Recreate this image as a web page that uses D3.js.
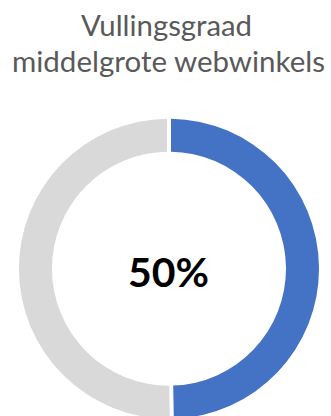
<!DOCTYPE html>
<html>
<head>
<meta charset="utf-8">
<script src="https://cdn.jsdelivr.net/npm/d3@7"></script>
<style>
  html, body { margin: 0; padding: 0; background: #fff; }
  svg { display: block; }
</style>
</head>
<body>
<div id="chart"></div>
<script>
// Data
const titleLines = ["Vullingsgraad", "middelgrote webwinkels"];
const categories = ["Gevuld", "Leeg"];
const values = [49.7, 50.3];
const colors = ["#4472C4", "#D9D9D9"];
const centerLabel = "50%";

const width = 331, height = 416;
const cx = 169, cy = 268.7;
const outerR = 150, innerR = 117;

const svg = d3.select("#chart").append("svg")
    .attr("width", width)
    .attr("height", height);

// Title: height from font size, width fitted to what the reference shows
const font = "Lato, 'Open Sans', sans-serif";
const lineBase = [36, 72];
const lineCx = [166.5, 168.5];
const lineWidth = [171, 313];
svg.append("g").attr("class", "title")
    .selectAll("text")
    .data(titleLines)
    .enter().append("text")
    .attr("x", (d, i) => lineCx[i])
    .attr("y", (d, i) => lineBase[i])
    .attr("text-anchor", "middle")
    .attr("textLength", (d, i) => lineWidth[i])
    .attr("lengthAdjust", "spacingAndGlyphs")
    .style("font-family", font)
    .style("font-size", "29px")
    .style("fill", "#595959")
    .text(d => d);

// Doughnut
const pie = d3.pie().sort(null).value(d => d);
const arc = d3.arc()
    .innerRadius(innerR)
    .outerRadius(outerR)
    .padAngle(4 / outerR)
    .padRadius(outerR);

svg.append("g")
    .attr("transform", `translate(${cx},${cy})`)
    .selectAll("path")
    .data(pie(values))
    .enter().append("path")
    .attr("d", arc)
    .attr("fill", (d, i) => colors[i]);

// Centre label
svg.append("text")
    .attr("x", 168.5)
    .attr("y", 286.7)
    .attr("text-anchor", "middle")
    .attr("textLength", 81)
    .attr("lengthAdjust", "spacingAndGlyphs")
    .style("font-family", font)
    .style("font-weight", "bold")
    .style("font-size", "41px")
    .style("fill", "#000")
    .text(centerLabel);
</script>
</body>
</html>
